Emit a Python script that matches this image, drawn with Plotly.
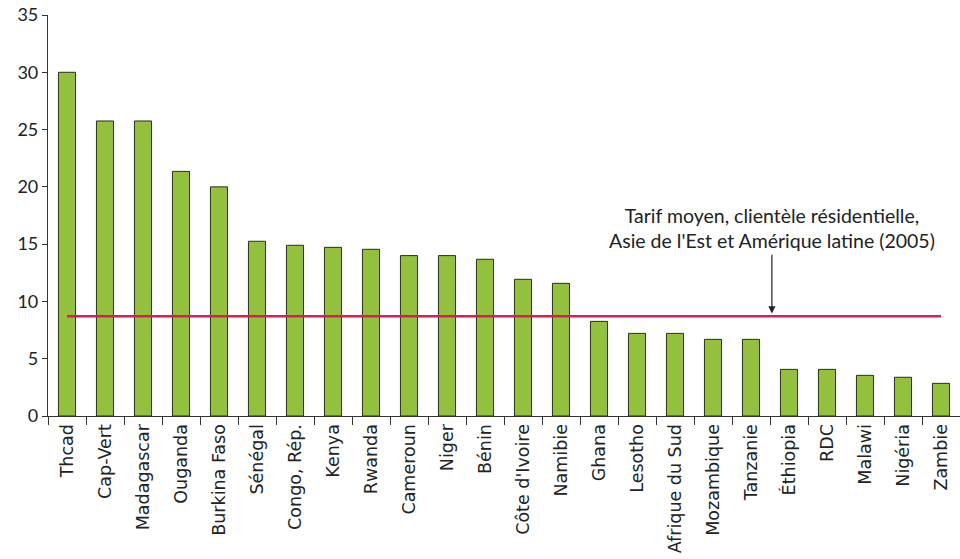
import plotly.graph_objects as go

# Residential electricity tariffs by country (US cents per kWh)
countries = [
    "Thcad", "Cap-Vert", "Madagascar", "Ouganda", "Burkina Faso", "Sénégal",
    "Congo, Rép.", "Kenya", "Rwanda", "Cameroun", "Niger", "Bénin",
    "Côte d'Ivoire", "Namibie", "Ghana", "Lesotho", "Afrique du Sud",
    "Mozambique", "Tanzanie", "Éthiopia", "RDC", "Malawi", "Nigéria", "Zambie",
]
tariffs = [
    30.0, 25.75, 25.75, 21.35, 20.0, 15.25,
    14.9, 14.72, 14.55, 14.0, 14.0, 13.68,
    11.93, 11.58, 8.26, 7.21, 7.21,
    6.69, 6.69, 4.07, 4.07, 3.55, 3.38, 2.85,
]
# Average residential tariff, East Asia and Latin America (2005)
reference_tariff = 8.7
y_ticks = [0, 5, 10, 15, 20, 25, 30, 35]

fig = go.Figure()

fig.add_trace(go.Bar(
    x=countries,
    y=tariffs,
    width=0.45,
    marker=dict(color="#93c13e", line=dict(color="#2b2b2b", width=1)),
    showlegend=False,
    hoverinfo="x+y",
))

fig.add_trace(go.Scatter(
    x=[countries[0], countries[-1]],
    y=[reference_tariff, reference_tariff],
    mode="lines",
    line=dict(color="#d81f55", width=2.5),
    showlegend=False,
    hoverinfo="skip",
))

arrow_x = 18.55
fig.add_annotation(
    x=arrow_x, y=reference_tariff + 0.25,
    ax=arrow_x, ay=14.2,
    xref="x", yref="y", axref="x", ayref="y",
    showarrow=True, arrowhead=2, arrowsize=1.2, arrowwidth=1.2,
    arrowcolor="#222222", text="",
)
fig.add_annotation(
    x=arrow_x, y=16.4, xref="x", yref="y",
    text="Tarif moyen, clientèle résidentielle,<br>Asie de l'Est et Amérique latine (2005)",
    showarrow=False, align="center",
    font=dict(family="Lato", size=19.5, color="#222222"),
)

fig.update_layout(
    width=960, height=559,
    margin=dict(l=48, r=0, t=15, b=143),
    paper_bgcolor="white", plot_bgcolor="white",
    font=dict(family="DejaVu Sans", color="#222222"),
)

fig.update_xaxes(
    type="category",
    range=[-0.5, len(countries) - 0.5],
    automargin=False,
    showline=True, linecolor="#333333", linewidth=1.2,
    ticks="outside", tickson="boundaries", ticklen=8, tickcolor="#333333",
    tickangle=-90,
    tickfont=dict(family="DejaVu Sans", size=17.5, color="#222222"),
    showgrid=False, zeroline=False,
)

fig.update_yaxes(
    range=[0, 35],
    tickvals=y_ticks,
    automargin=False,
    showline=True, linecolor="#333333", linewidth=1.2,
    ticks="outside", ticklen=5, tickcolor="#333333",
    tickfont=dict(family="Lato", size=18, color="#222222"),
    showgrid=False, zeroline=False,
)

fig.write_html("out.html")
